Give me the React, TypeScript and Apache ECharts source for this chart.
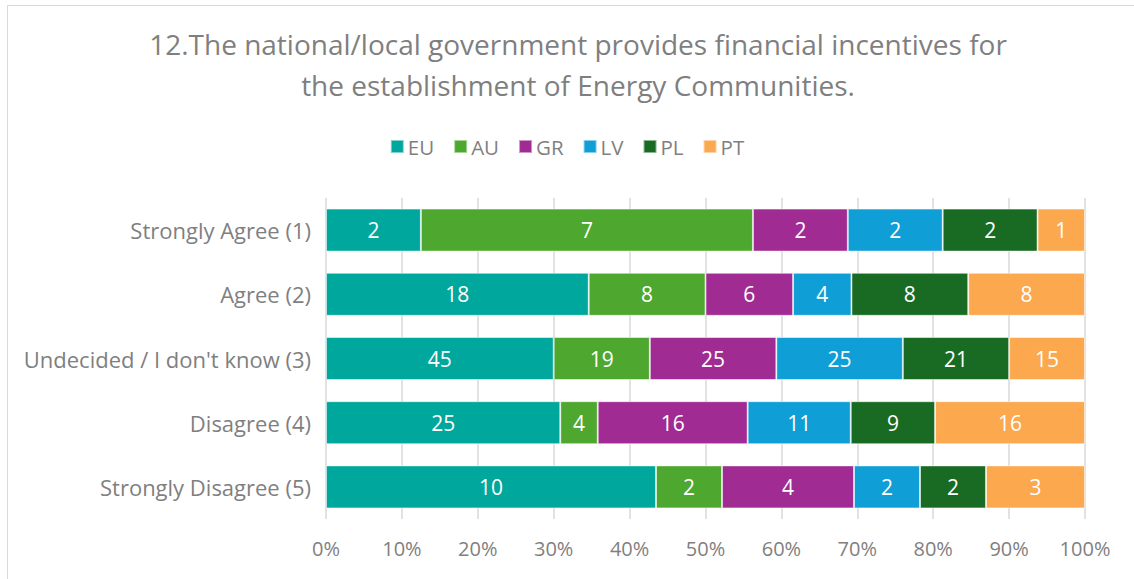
import React, { useEffect, useRef } from "react";
import * as echarts from "echarts";

const categories = [
  "Strongly Agree (1)",
  "Agree (2)",
  "Undecided / I don't know (3)",
  "Disagree (4)",
  "Strongly Disagree (5)",
];
const seriesNames = ["EU", "AU", "GR", "LV", "PL", "PT"];
const EU = [2, 18, 45, 25, 10];
const AU = [7, 8, 19, 4, 2];
const GR = [2, 6, 25, 16, 4];
const LV = [2, 4, 25, 11, 2];
const PL = [2, 8, 21, 9, 2];
const PT = [1, 8, 15, 16, 3];
const colors = ["#00A79C", "#4EA72E", "#A02B93", "#0F9ED5", "#196B24", "#FBA84F"];
const xTicks = [0, 10, 20, 30, 40, 50, 60, 70, 80, 90, 100];

const FONT = "'Open Sans', 'Noto Sans', sans-serif";
const TXT = "#7f7f7f";

export default function App() {
  const ref = useRef<HTMLDivElement>(null);
  useEffect(() => {
    if (!ref.current) return;
    const chart = echarts.init(ref.current, undefined, { renderer: "svg" });
    const all = [EU, AU, GR, LV, PL, PT];
    const totals = categories.map((_, i) => all.reduce((s, a) => s + a[i], 0));
    chart.setOption({
      animation: false,
      backgroundColor: "#ffffff",
      textStyle: { fontFamily: FONT },
      title: {
        text: "12.The national/local government provides financial incentives for\nthe establishment of Energy Communities.",
        left: 573,
        top: 18,
        textAlign: "center",
        textStyle: { fontFamily: FONT, fontSize: 28, fontWeight: "normal", color: TXT, lineHeight: 41 },
      },
      legend: {
        data: seriesNames,
        top: 131,
        left: "center",
        itemWidth: 13,
        itemHeight: 13,
        itemGap: 19,
        icon: "rect",
        textStyle: { fontFamily: FONT, fontSize: 20.5, color: TXT, padding: [0, 0, 0, -1] },
      },
      graphic: [
        {
          type: "rect",
          shape: { x: 7.5, y: 5.5, width: 1140, height: 600 },
          style: { fill: "none", stroke: "#d9d9d9", lineWidth: 1 },
          silent: true,
        },
      ],
      grid: { left: 326, right: 49, top: 198, bottom: 60, containLabel: false },
      xAxis: {
        type: "value",
        min: 0,
        max: 100,
        interval: 10,
        axisLine: { show: false },
        axisTick: { show: false },
        splitLine: { show: true, lineStyle: { color: "#d9d9d9", width: 1.5 } },
        axisLabel: {
          formatter: (v: number) => (xTicks.includes(v) ? v + "%" : ""),
          fontFamily: FONT,
          fontSize: 20,
          color: TXT,
          margin: 19,
        },
      },
      yAxis: {
        type: "category",
        data: categories,
        inverse: true,
        axisLine: { show: false },
        axisTick: { show: false },
        axisLabel: { fontFamily: FONT, fontSize: 22, color: TXT, margin: 15 },
      },
      series: all.map((arr, si) => ({
        name: seriesNames[si],
        type: "bar",
        stack: "total",
        barWidth: 43,
        itemStyle: { color: colors[si], borderColor: "rgba(255,255,255,0.5)", borderWidth: 1 },
        label: {
          show: true,
          position: "inside",
          color: "#ffffff",
          fontFamily: FONT,
          fontSize: 21,
          formatter: (p: any) => String(arr[p.dataIndex]),
        },
        data: arr.map((v, i) => (v / totals[i]) * 100),
      })),
    });
    return () => chart.dispose();
  }, []);
  return (
    <div
      ref={ref}
      style={{ position: "absolute", left: 0, top: 0, width: 1134, height: 579 }}
    />
  );
}
